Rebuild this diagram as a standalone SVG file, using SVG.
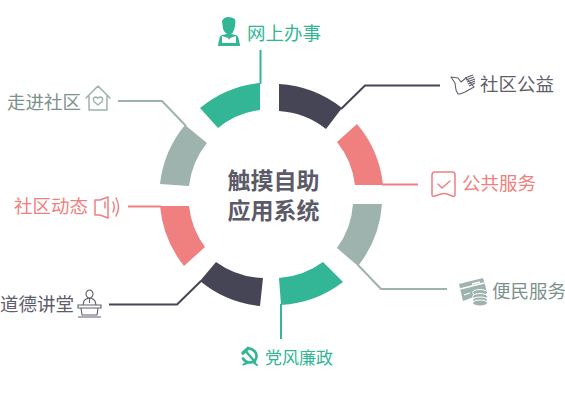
<svg xmlns="http://www.w3.org/2000/svg" width="565" height="408" viewBox="0 0 565 408">
<style>
text{font-family:"Noto Sans CJK SC","Noto Sans",sans-serif;font-size:18.500px}
.g{fill:#33b696}.d{fill:#464555}.p{fill:#f08080}.s{fill:#9fb3ae}
.tg{fill:#33b696}.td{fill:#5f5e6c}.tp{fill:#f08080}.ts{fill:#7d918c}
.ln{fill:none;stroke-width:2}
.ic{fill:none;stroke-width:1.500;stroke-linejoin:round;stroke-linecap:round}
</style>
<rect width="565" height="408" fill="#fff"/>
<g id="connectors">
<path class="ln" stroke="#33b696" d="M260.500 84V50"/>
<path class="ln" stroke="#464555" d="M341 109L365 85.500H440"/>
<path class="ln" stroke="#f08080" d="M382 184.500H418"/>
<path class="ln" stroke="#9fb3ae" d="M358 265L381 289H447"/>
<path class="ln" stroke="#33b696" d="M281 304V339"/>
<path class="ln" stroke="#464555" d="M201 281L177 304.500H109"/>
<path class="ln" stroke="#f08080" d="M161 206.500H128"/>
<path class="ln" stroke="#9fb3ae" d="M186 126L162 101H118"/>
</g>
<g id="center"><text text-anchor="middle" font-weight="700" style="font-size:23px" fill="#5b5a68"><tspan x="273.500" y="189">触摸自助</tspan><tspan x="273.500" y="219">应用系统</tspan></text></g>
<g id="node-wangshang">
<path class="g" d="M260 83A112 112 0 0 0 200 108L218 128A84 84 0 0 1 260 110Z"/>
<path class="g" d="M222 21q2-4 6-4t7 2q1 3 0 7l-1 4q-1 3-3 4l5 1q2 1 2.500 3l1.500 7v1h-22v-1l1.500-7q.5-2 2.500-3l5-1q-3-2-4-5z"/>
<path fill="#fff" d="M222 36l6 2 1 2 1-2 6-2v7h-14z"/>
<text class="tg" x="247" y="40">网上办事</text></g>
<g id="node-shequ-gongyi">
<path class="d" d="M279 84A112 112 0 0 1 342 108L326 129A84 84 0 0 0 279 111Z"/>
<path stroke="#5f5e6c" fill="none" stroke-width="1.100" stroke-linejoin="round" d="M451 77l7 1 3 4 5-4 8 9-9 5-5 2-2 0-2-4-1-7z"/>
<path stroke="#5f5e6c" fill="none" stroke-width="1.300" d="M465 78l8-3M466 80l8-3M467 82l8-3M468 84l7-3M469 86l6-3"/>
<text class="td" x="480" y="91">社区公益</text></g>
<g id="node-gonggong">
<path class="p" d="M357 124A112 112 0 0 1 383 185H355A84 84 0 0 0 337 142Z"/>
<path class="ic" stroke="#f08080" d="M435 172h17q3 0 3 3v20q0 2-3 1l-5-2q-3-1-6 0l-6 2q-3 1-3-1v-20q0-3 3-3zM438 184l4 4 8-7"/>
<text class="tp" x="462" y="190">公共服务</text></g>
<g id="node-bianmin">
<path class="s" d="M353 204H382A112 112 0 0 1 358 266L337 248A84 84 0 0 0 353 204Z"/>
<path class="s" d="M459 284l24-6 4 14-24 9z"/>
<path stroke="#fff" stroke-width="1.300" fill="none" d="M460 289l24-6M464 295l6-2M472 284l8-2"/>
<g class="s" stroke="#fff" stroke-width="1"><ellipse cx="480" cy="292.500" rx="7.500" ry="3"/><ellipse cx="480" cy="296.500" rx="7.500" ry="3"/><ellipse cx="480" cy="300" rx="7.500" ry="3"/><ellipse cx="480" cy="303" rx="7.500" ry="3"/></g>
<text class="ts" x="492" y="298">便民服务</text></g>
<g id="node-dangfeng">
<path class="g" d="M323 262L343 282A112 112 0 0 1 281 305L279 278A84 84 0 0 0 323 262Z"/>
<g fill="none" stroke="#33b696" stroke-linecap="round"><path stroke-width="2.600" d="M250 348.500Q257 351 256.500 357Q255.500 362.500 249 362.500Q245 362 243 358.500"/><path stroke-width="2.400" d="M246.500 352L255 362"/><path stroke-width="3.600" d="M243 353L248 348.500"/><path stroke-width="2" d="M243.500 364.500L248 362.500M253 362L257 365"/></g>
<text class="tg" x="265" y="364" style="font-size:17px">党风廉政</text></g>
<g id="node-daode">
<path class="d" d="M216 262A84 84 0 0 0 263 278L260 306A112 112 0 0 1 200 281Z"/>
<path stroke="#5f5e6c" fill="none" stroke-width="1.100" d="M89.500 298a3.500 4 0 1 0-.01 0zM83 305l1-4q1-2 5.500-3 4.500 1 5.500 3l1 4M89.500 298v5M78 305h23v3h-23zM81 308l1 7h15l1-7M78 317h23"/>
<text class="td" x="0" y="310.500">道德讲堂</text></g>
<g id="node-dongtai">
<path class="p" d="M160 206H189A84 84 0 0 0 205 247L184 266A112 112 0 0 1 160 206Z"/>
<path class="ic" stroke="#f08080" d="M95 200h5l8-3v21l-8-3h-5zM113 202q2.500 5 0 10M116 198q5 9 0 18M105 202v6"/>
<text class="tp" x="14" y="213">社区动态</text></g>
<g id="node-zoujin">
<path class="s" d="M185 125L207 143A84 84 0 0 0 189 186L160 184A112 112 0 0 1 185 125Z"/>
<path class="ic" stroke="#9fb3ae" d="M86 98L98 86l12 12M89 96v14h18V96M98 105l-4-3.500q-2-4 2-4.500l2 1 2-1q4 .5 2 4.500z"/>
<text class="ts" x="7" y="108.500">走进社区</text></g>
</svg>
